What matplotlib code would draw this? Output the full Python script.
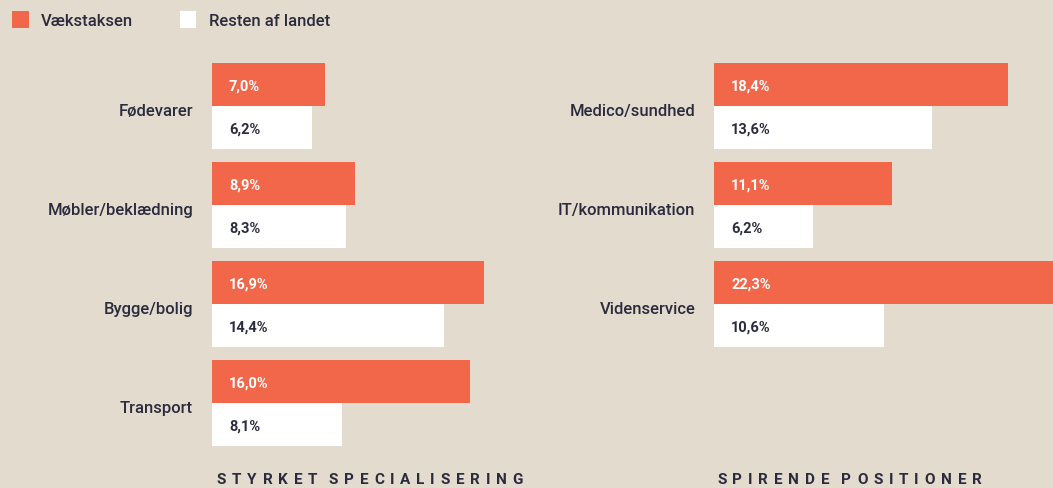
import matplotlib
matplotlib.use("Agg")
import matplotlib.pyplot as plt
from matplotlib.patches import Rectangle

# ---- data ----
left_categories = ["Fødevarer", "Møbler/beklædning", "Bygge/bolig", "Transport"]
left_vaekst = [7.0, 8.9, 16.9, 16.0]
left_resten = [6.2, 8.3, 14.4, 8.1]

right_categories = ["Medico/sundhed", "IT/kommunikation", "Videnservice"]
right_vaekst = [18.4, 11.1, 22.3]
right_resten = [13.6, 6.2, 10.6]

series_names = ["Vækstaksen", "Resten af landet"]
panel_titles = ["STYRKET SPECIALISERING", "SPIRENDE POSITIONER"]

# ---- style ----
BG = "#E4DBCF"
ORANGE = "#F2674A"
WHITE = "#FFFFFF"
DARK = "#2A2C3E"
FONT = "Roboto"

W, H = 1053, 489
fig = plt.figure(figsize=(W / 100, H / 100), dpi=100)
fig.patch.set_facecolor(BG)

def px_axes(x0, y0_top, w, h):
    return fig.add_axes([x0 / W, 1 - (y0_top + h) / H, w / W, h / H])

bar_h = 43 / 99.0
top_u = -57 / 99.0
height_px = 400
ylim = (top_u + height_px / 99.0, top_u)

def fmt(v):
    return f"{v:.1f}".replace(".", ",") + "%"

def panel(ax, cats, v1, v2, scale):
    ax.set_facecolor("none")
    width_px = ax.get_position().width * W
    ax.set_xlim(0, width_px / scale)
    ax.set_ylim(*ylim)
    ys = list(range(len(cats)))
    ax.barh([y - bar_h / 2 for y in ys], v1, height=bar_h, color=ORANGE)
    ax.barh([y + bar_h / 2 for y in ys], v2, height=bar_h, color=WHITE)
    for y, a, b, c in zip(ys, v1, v2, cats):
        ax.annotate(fmt(a), xy=(0, y - bar_h / 2), xytext=(12.3, -1), textcoords="offset points",
                    ha="left", va="center", color=WHITE, fontsize=10.5, fontweight="bold", family=FONT)
        ax.annotate(fmt(b), xy=(0, y + bar_h / 2), xytext=(12.3, -1), textcoords="offset points",
                    ha="left", va="center", color=DARK, fontsize=10.5, fontweight="bold", family=FONT)
        ax.annotate(c, xy=(0, y), xytext=(-13.5, -3.5), textcoords="offset points",
                    ha="right", va="center", color=DARK, fontsize=12, fontweight="medium",
                    family=FONT, annotation_clip=False)
    ax.axis("off")

def tracked_title(text, x_px, y_px, total_px):
    # draw with letter spacing so the title spans total_px
    r = fig.canvas.get_renderer()
    chars = list(text)
    widths = []
    for ch in chars:
        if ch == " ":
            widths.append(0.0)
            continue
        t = fig.text(0, 0, ch, fontsize=11, fontweight="bold", family=FONT)
        widths.append(t.get_window_extent(r).width)
        t.remove()
    gap = (total_px - sum(widths)) / (len(chars) - 1)
    x = x_px
    for ch, wdt in zip(chars, widths):
        if ch != " ":
            fig.text(x / W, 1 - y_px / H, ch, ha="left", va="center", color=DARK,
                     fontsize=11, fontweight="bold", family=FONT)
        x += wdt + gap

axL = px_axes(212, 50, 339, height_px)
axR = px_axes(714, 50, 339, height_px)
panel(axL, left_categories, left_vaekst, left_resten, 16.1)
panel(axR, right_categories, right_vaekst, right_resten, 16.0)

tracked_title(panel_titles[0], 217, 480, 306)
tracked_title(panel_titles[1], 717, 480, 265)

# legend
fig.patches.append(Rectangle((12 / W, 1 - 29 / H), 17 / W, 17 / H, transform=fig.transFigure,
                             facecolor=ORANGE, edgecolor="none"))
fig.patches.append(Rectangle((180 / W, 1 - 29 / H), 16 / W, 17 / H, transform=fig.transFigure,
                             facecolor=WHITE, edgecolor="none"))
fig.text(41 / W, 1 - 21 / H, series_names[0], ha="left", va="center", color=DARK,
         fontsize=12, fontweight="medium", family=FONT)
fig.text(209 / W, 1 - 21 / H, series_names[1], ha="left", va="center", color=DARK,
         fontsize=12, fontweight="medium", family=FONT)

fig.savefig("out.png", dpi=100, facecolor=BG)
